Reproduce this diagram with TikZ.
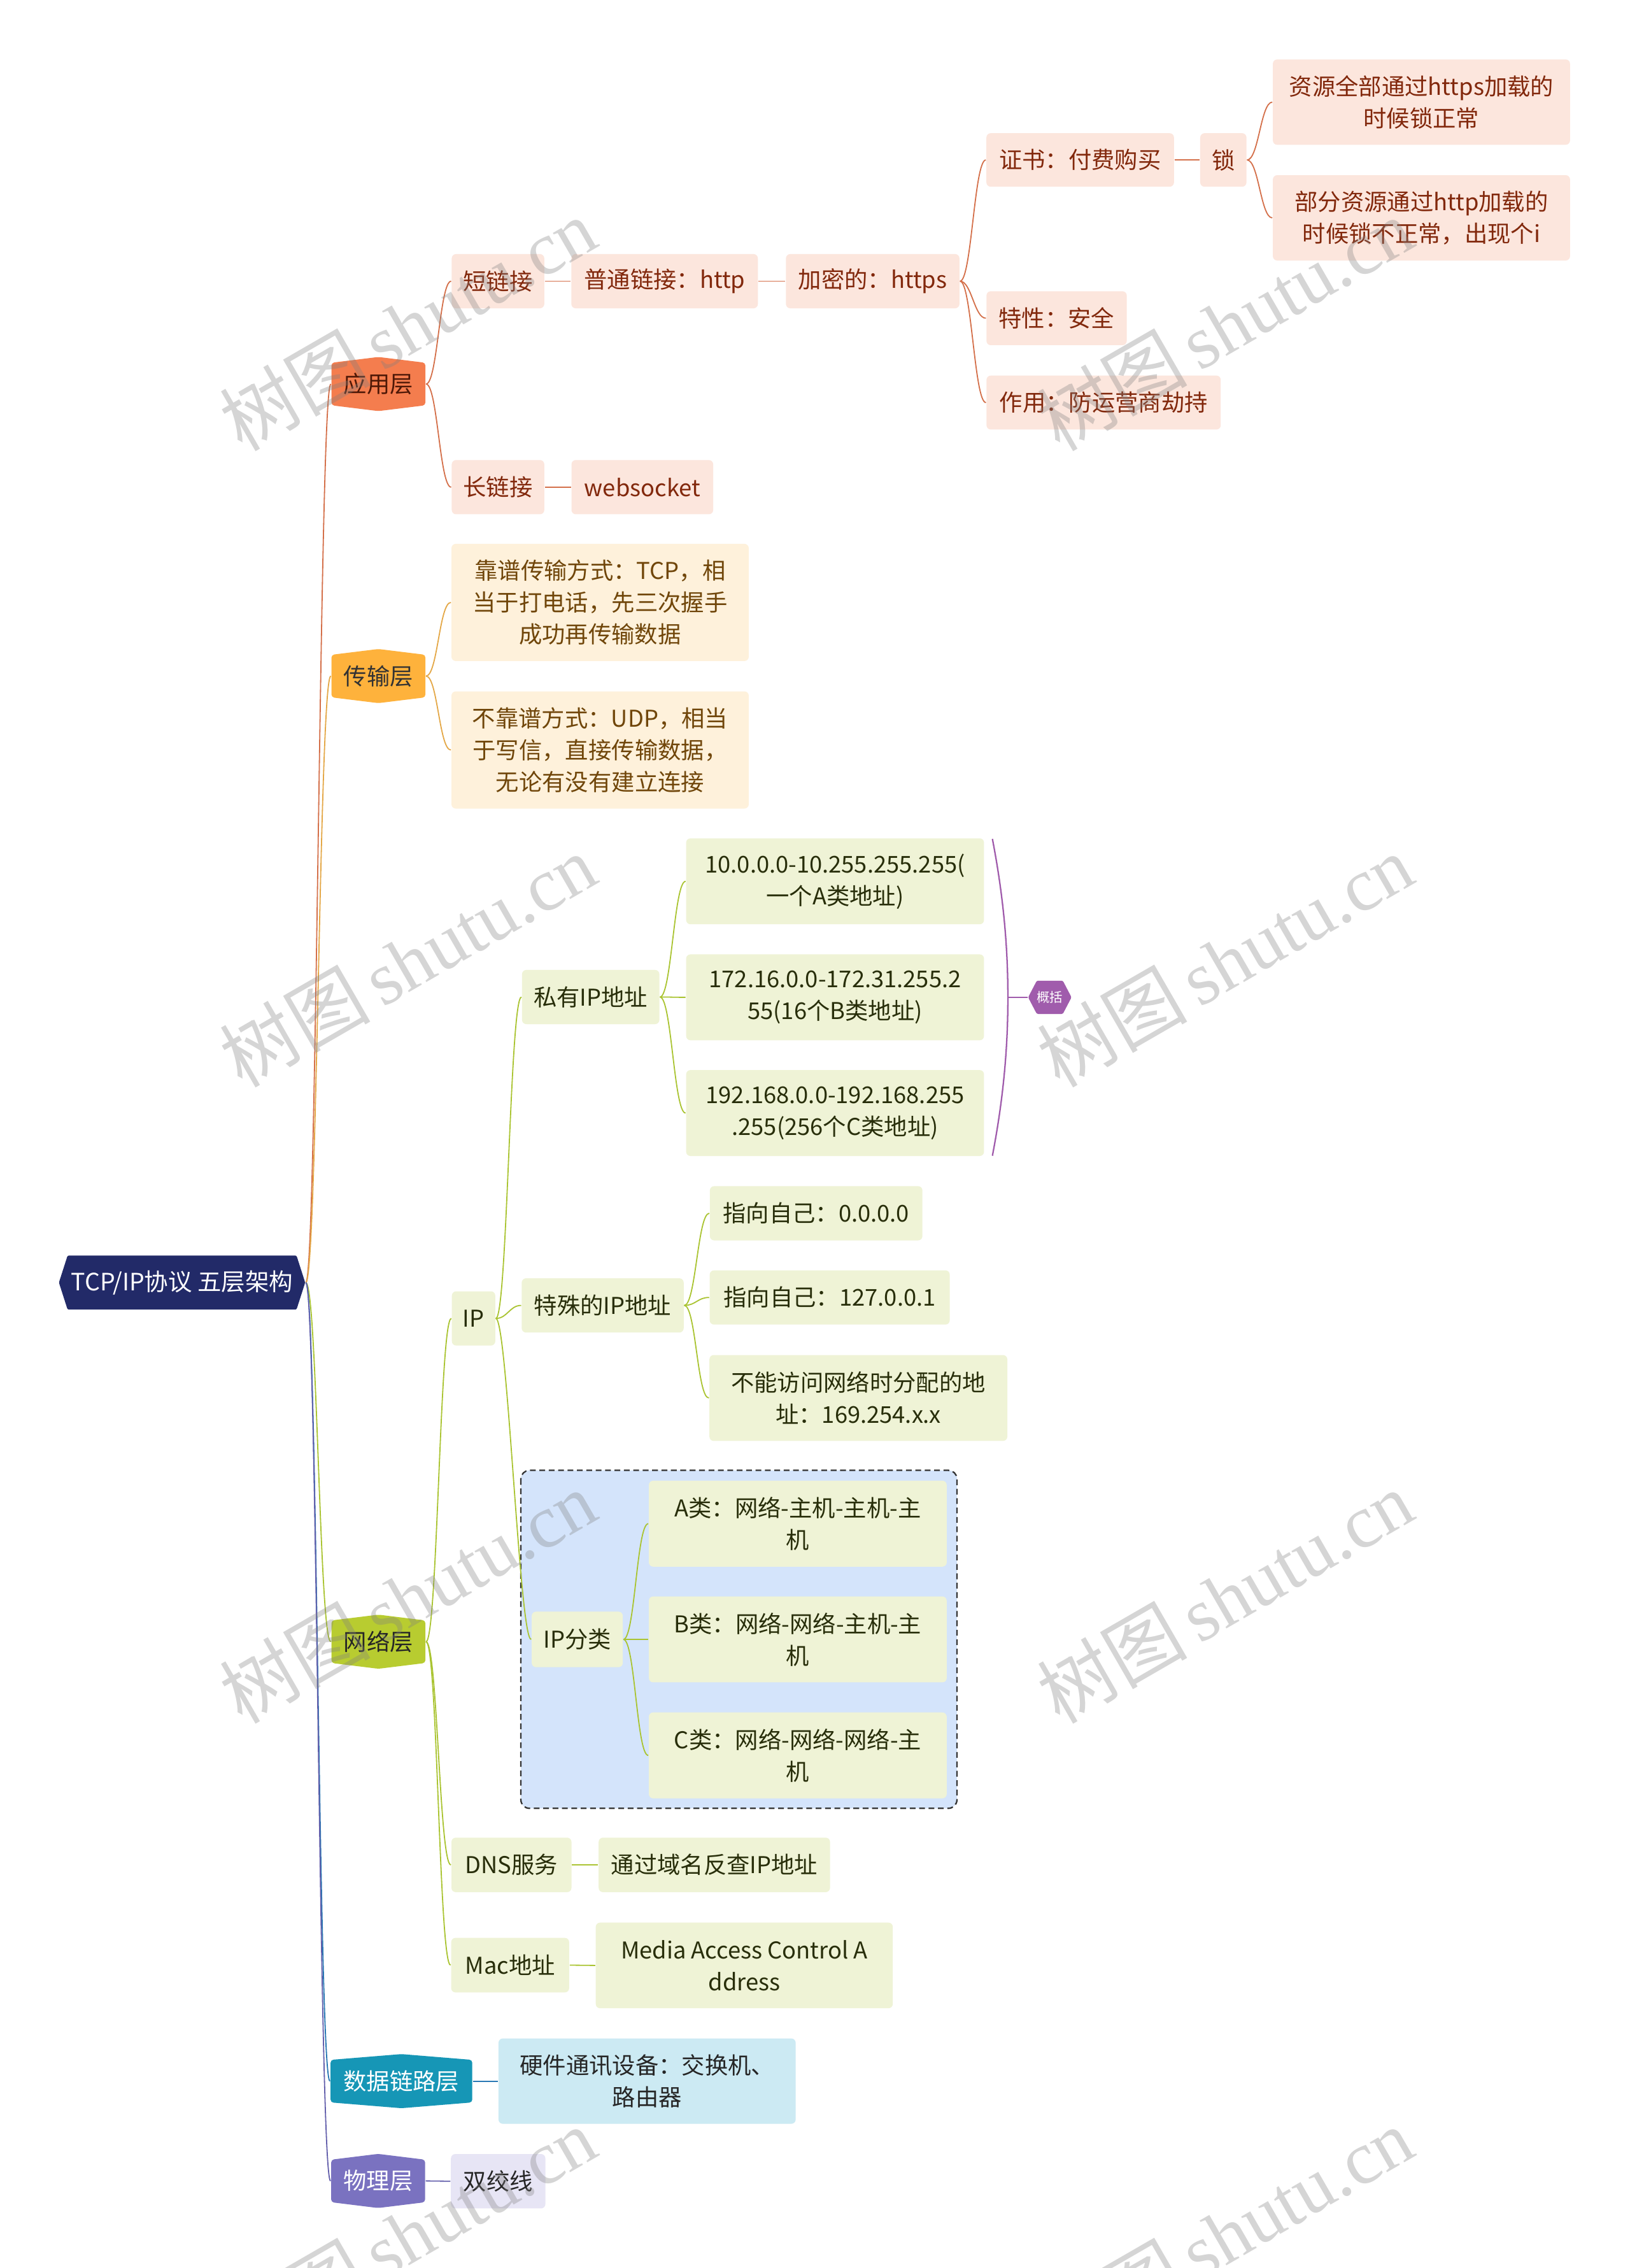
\documentclass[tikz,border=0pt]{standalone}
\usepackage{fontspec}
\setmainfont{Noto Sans CJK SC}
\newfontfamily\wmfont{Liberation Serif}

\definecolor{rootfill}{RGB}{34,42,104}
\definecolor{apphex}{RGB}{244,125,78}
\definecolor{appfill}{RGB}{252,230,221}
\definecolor{apptext}{RGB}{130,40,12}
\definecolor{appline}{RGB}{212,112,74}
\definecolor{tranhex}{RGB}{254,178,60}
\definecolor{tranfill}{RGB}{254,241,219}
\definecolor{trantext}{RGB}{112,70,10}
\definecolor{tranline}{RGB}{228,168,72}
\definecolor{nethex}{RGB}{184,204,48}
\definecolor{netfill}{RGB}{239,243,214}
\definecolor{nettext}{RGB}{40,46,10}
\definecolor{netline}{RGB}{170,196,50}
\definecolor{framefill}{RGB}{212,228,251}
\definecolor{dlhex}{RGB}{22,150,182}
\definecolor{dlfill}{RGB}{204,234,243}
\definecolor{dlline}{RGB}{40,120,180}
\definecolor{phyhex}{RGB}{122,114,192}
\definecolor{phyfill}{RGB}{231,229,245}
\definecolor{phyline}{RGB}{100,96,172}
\definecolor{sumhex}{RGB}{160,92,172}

\begin{document}
\begin{tikzpicture}[x=1pt, y=-1pt, line width=0.8pt,
    box/.style={rounded corners=3pt, inner sep=0pt, align=center, font=\fontsize{16}{22}\selectfont},
    appbox/.style={box, fill=appfill, text=apptext},
    tranbox/.style={box, fill=tranfill, text=trantext},
    netbox/.style={box, fill=netfill, text=nettext},
    dlbox/.style={box, fill=dlfill, text=black!85},
    phybox/.style={box, fill=phyfill, text=black!85},
    hexv/.style={inner sep=0pt, minimum width=65pt, minimum height=37.4pt,
        font=\fontsize{16}{22}\selectfont,
        path picture={\fill[#1, rounded corners=2pt]
            ([yshift=-4pt]path picture bounding box.north west) -- (path picture bounding box.north)
            -- ([yshift=-4pt]path picture bounding box.north east)
            -- ([yshift=4pt]path picture bounding box.south east)
            -- (path picture bounding box.south)
            -- ([yshift=4pt]path picture bounding box.south west) -- cycle;}},
    hexh/.style={inner sep=0pt,
        path picture={\fill[#1, rounded corners=1pt]
            ([xshift=6pt]path picture bounding box.north west)
            -- ([xshift=-6pt]path picture bounding box.north east)
            -- (path picture bounding box.east)
            -- ([xshift=-6pt]path picture bounding box.south east)
            -- ([xshift=6pt]path picture bounding box.south west)
            -- (path picture bounding box.west) -- cycle;}},
    link/.style={to path={.. controls +(8,0) and +(-8,0) .. (\tikztotarget)}},
    watermark/.style={rotate=30, text=black!50, text opacity=0.33, inner sep=0pt}
]
    \fill[white] (0,0) rectangle (1127,1568);
    \useasboundingbox (0,0) rectangle (1127,1568);

    % root and the five layers
    \node[hexh=rootfill, minimum width=170.3pt, minimum height=37.4pt, text=white,
        font=\fontsize{16.5}{22}\selectfont] (root) at (125.9,886.7) {TCP/IP协议 五层架构};
    \node[hexv=apphex, text=apptext!60!black] (app) at (261.7,265.5) {应用层};
    \node[hexv=tranhex, text=black!80] (tran) at (261.7,467.4) {传输层};
    \node[hexv=nethex, text=black!85] (net) at (261.7,1135) {网络层};
    \node[hexv=dlhex, minimum width=98pt, text=white] (dl) at (277.6,1438.8) {数据链路层};
    \node[hexv=phyhex, text=white] (phy) at (261.5,1507.8) {物理层};

    % application layer
    \node[appbox, minimum width=64pt, minimum height=37.5pt] (short) at (344.4,194.4) {短链接};
    \node[appbox, minimum width=129pt, minimum height=37.5pt] (http) at (459.6,194.4) {普通链接：http};
    \node[appbox, minimum width=120pt, minimum height=37.5pt] (https) at (603.5,194.4) {加密的：https};
    \node[appbox, minimum width=129.7pt, minimum height=37pt] (cert) at (747,110.6) {证书：付费购买};
    \node[appbox, minimum width=32pt, minimum height=37pt] (lock) at (846,110.6) {锁};
    \node[appbox, minimum width=205.5pt, minimum height=59pt] (lockok) at (983,70.6)
        {资源全部通过https加载的\\时候锁正常};
    \node[appbox, minimum width=205.5pt, minimum height=59pt] (lockbad) at (983,150.6)
        {部分资源通过http加载的\\时候锁不正常，出现个i};
    \node[appbox, minimum width=97pt, minimum height=37.3pt] (feat) at (730.7,220) {特性：安全};
    \node[appbox, minimum width=162pt, minimum height=37.3pt] (use) at (763.2,278.3) {作用：防运营商劫持};
    \node[appbox, minimum width=64pt, minimum height=37.5pt] (long) at (344.4,336.8) {长链接};
    \node[appbox, minimum width=98pt, minimum height=37.5pt] (ws) at (444.2,336.8) {websocket};

    % transport layer
    \node[tranbox, minimum width=205.6pt, minimum height=81pt] (tcp) at (415,416.5)
        {靠谱传输方式：TCP，相\\当于打电话，先三次握手\\成功再传输数据};
    \node[tranbox, minimum width=205.6pt, minimum height=81pt] (udp) at (415,518.5)
        {不靠谱方式：UDP，相当\\于写信，直接传输数据，\\无论有没有建立连接};

    % network layer
    \node[netbox, minimum width=30pt, minimum height=37.5pt] (ip) at (327.5,911.5) {IP};
    \node[netbox, minimum width=95pt, minimum height=37.5pt] (priv) at (408.5,689.3) {私有IP地址};
    \node[netbox, minimum width=206pt, minimum height=59.4pt] (p1) at (577.5,609.3)
        {10.0.0.0-10.255.255.255(\\一个A类地址)};
    \node[netbox, minimum width=206pt, minimum height=59.4pt] (p2) at (577.5,689.5)
        {172.16.0.0-172.31.255.2\\55(16个B类地址)};
    \node[netbox, minimum width=206pt, minimum height=59.4pt] (p3) at (577.5,769.5)
        {192.168.0.0-192.168.255\\.255(256个C类地址)};
    \node[hexh=sumhex, minimum width=30pt, minimum height=23pt, text=white,
        font=\fontsize{9}{10}\selectfont] (sum) at (726,689.5) {概括};
    \node[netbox, minimum width=112pt, minimum height=37.5pt] (special) at (416.8,902.5) {特殊的IP地址};
    \node[netbox, minimum width=147pt, minimum height=37.5pt] (s1) at (564.4,838.8) {指向自己：0.0.0.0};
    \node[netbox, minimum width=166pt, minimum height=37.5pt] (s2) at (573.8,897) {指向自己：127.0.0.1};
    \node[netbox, minimum width=206pt, minimum height=59.4pt] (s3) at (593.6,966.5)
        {不能访问网络时分配的地\\址：169.254.x.x};

    \draw[black!80, line width=1pt, dash pattern=on 4pt off 2.5pt, fill=framefill,
        rounded corners=6pt] (360.2,1016.5) rectangle (661.8,1250.2);
    \node[netbox, minimum width=63pt, minimum height=38.4pt] (ipcls) at (399.2,1133.4) {IP分类};
    \node[netbox, minimum width=206pt, minimum height=59.4pt] (c1) at (551.7,1053.4)
        {A类：网络-主机-主机-主\\机};
    \node[netbox, minimum width=206pt, minimum height=59.4pt] (c2) at (551.7,1133.4)
        {B类：网络-网络-主机-主\\机};
    \node[netbox, minimum width=206pt, minimum height=59.4pt] (c3) at (551.7,1213.6)
        {C类：网络-网络-网络-主\\机};

    \node[netbox, minimum width=83pt, minimum height=37.7pt] (dns) at (353.7,1289.3) {DNS服务};
    \node[netbox, minimum width=160pt, minimum height=37.7pt] (dnsd) at (494,1289.3) {通过域名反查IP地址};
    \node[netbox, minimum width=81.6pt, minimum height=37.7pt] (mac) at (352.8,1358.6) {Mac地址};
    \node[netbox, minimum width=205.4pt, minimum height=59.2pt] (macd) at (514.7,1358.8)
        {Media Access Control A\\ddress};

    % data link and physical layer
    \node[dlbox, minimum width=205.5pt, minimum height=59pt] (hw) at (447.5,1438.8)
        {硬件通讯设备：交换机、\\路由器};
    \node[phybox, minimum width=65.3pt, minimum height=37.6pt] (twist) at (344.5,1508) {双绞线};

    % connectors
    \draw[appline] (root.east) to[link] (app.west);
    \draw[tranline] (root.east) to[link] (tran.west);
    \draw[netline] (root.east) to[link] (net.west);
    \draw[dlline] (root.east) to[link] (dl.west);
    \draw[phyline] (root.east) to[link] (phy.west);

    \draw[appline] (app.east) to[link] (short.west);
    \draw[appline] (app.east) to[link] (long.west);
    \draw[appline] (short.east) -- (http.west);
    \draw[appline] (http.east) -- (https.west);
    \foreach \n in {cert,feat,use}
        \draw[appline] (https.east) to[link] (\n.west);
    \draw[appline] (cert.east) -- (lock.west);
    \draw[appline] (lock.east) to[link] (lockok.west);
    \draw[appline] (lock.east) to[link] (lockbad.west);
    \draw[appline] (long.east) -- (ws.west);

    \draw[tranline] (tran.east) to[link] (tcp.west);
    \draw[tranline] (tran.east) to[link] (udp.west);

    \foreach \n in {ip,dns,mac}
        \draw[netline] (net.east) to[link] (\n.west);
    \foreach \n in {priv,special,ipcls}
        \draw[netline] (ip.east) to[link] (\n.west);
    \foreach \n in {p1,p2,p3}
        \draw[netline] (priv.east) to[link] (\n.west);
    \foreach \n in {s1,s2,s3}
        \draw[netline] (special.east) to[link] (\n.west);
    \foreach \n in {c1,c2,c3}
        \draw[netline] (ipcls.east) to[link] (\n.west);
    \draw[netline] (dns.east) -- (dnsd.west);
    \draw[netline] (mac.east) -- (macd.west);

    \coordinate (brace) at (697,689.5);
    \draw[sumhex, line width=1pt] (686.3,580) .. controls (694,620) and (697,655) .. (brace)
        .. controls (697,724) and (694,759) .. (686.3,799);
    \draw[sumhex, line width=1pt] (brace) -- (sum.west);

    \draw[dlline] (dl.east) -- (hw.west);
    \draw[phyline] (phy.east) -- (twist.west);

    % watermark
    \foreach \wx in {282,847}
        \foreach \wy in {224,664,1104,1544}
            \node[watermark] (wm-\wx-\wy) at (\wx,\wy)
                {\fontsize{52}{52}\selectfont 树图\hspace{8pt}{\wmfont shutu.cn}};
\end{tikzpicture}
\end{document}
